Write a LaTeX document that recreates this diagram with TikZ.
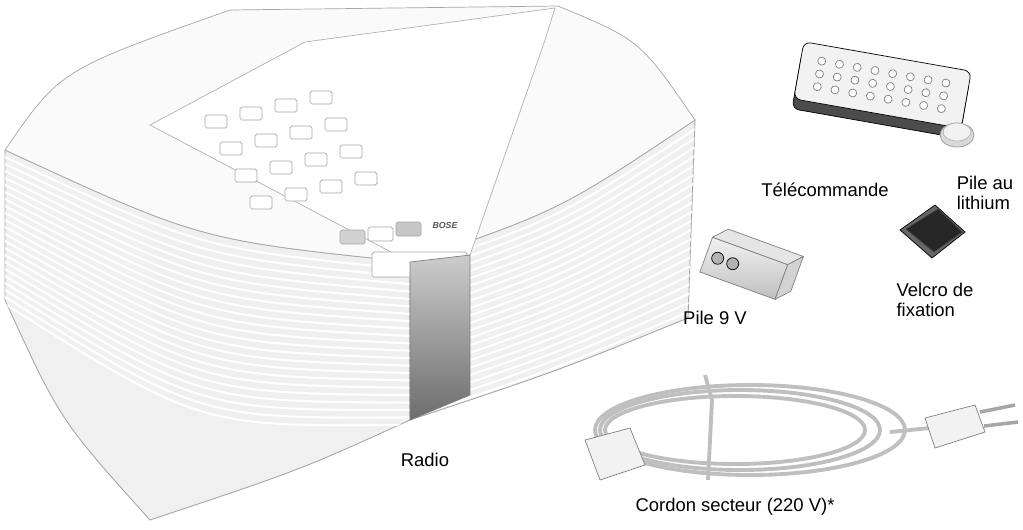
\documentclass[tikz,border=0pt]{standalone}
\usepackage{fontspec}
\setmainfont{Liberation Sans}
\begin{document}
\begin{tikzpicture}[%
      x=0.02cm, y=-0.02cm,
      lbl/.style={font=\fontsize{10.5}{11.5}\selectfont, align=left, inner sep=0pt},
      body/.style={draw=gray!70, line width=0.5pt, fill=gray!12},
      key/.style={draw=gray!70, fill=white, line width=0.4pt, rounded corners=1pt},
      ]
      \useasboundingbox (0,0) rectangle (1023,529);
      % radio
      \draw [body] (5,150) -- (5,300) .. controls (60,420) .. (150,520) .. controls (300,470) .. (410,420) -- (410,262) .. controls (200,240) .. (5,150);
      \draw [body] (410,262) -- (410,420) .. controls (560,370) .. (688,318) -- (695,120) .. controls (560,210) .. (410,262);
      \begin{scope}
        \clip (5,150) -- (5,300) .. controls (60,420) .. (150,520) .. controls (300,470) .. (410,420) -- (410,262) .. controls (200,240) .. (5,150);
        \foreach \i in {1,...,22} {
          \draw [white, line width=1.2pt] (5,{150+7*\i}) .. controls (200,{240+8.5*\i}) .. (410,{262+7.4*\i});
        }
      \end{scope}
      \begin{scope}
        \clip (410,262) -- (410,420) .. controls (560,370) .. (688,318) -- (695,120) .. controls (560,210) .. (410,262);
        \foreach \i in {1,...,22} {
          \draw [white, line width=1.2pt] (410,{262+7.4*\i}) .. controls (560,{210+7.5*\i}) .. (695,{120+9*\i});
        }
      \end{scope}
      \draw [draw=gray!70, fill=white!96!gray] (5,150) .. controls (60,70) .. (230,10) -- (558,6) .. controls (640,40) .. (695,120) .. controls (560,210) .. (410,262) .. controls (200,240) .. (5,150);
      % keypad panel
      \draw [gray!60, fill=white] (150,125) -- (305,42) -- (555,8) -- (545,40) -- (470,255) -- (410,262) -- cycle;
      \foreach \r in {0,1,2,3} \foreach \c in {0,1,2,3} {
        \draw [key] ({205+35*\c+15*\r},{115-8*\c+27*\r}) rectangle +(22,13);
      }
      \draw [key, fill=gray!35] (340,230) rectangle +(25,14);
      \draw [key] (368,227) rectangle +(25,14);
      \draw [key, fill=gray!45] (396,222) rectangle +(25,14);
      \draw [key] (372,252) rectangle +(95,25);
      \node [font=\tiny\itshape\bfseries, gray!70!black] at (445,225) {BOSE};
      \shade [top color=gray!40, bottom color=gray!85!black, draw=gray] (410,262) -- (470,255) -- (470,395) -- (410,420) -- cycle;
      \node [lbl] (radio) at (425,460) {Radio};
      % remote
      \begin{scope}[shift={(882,88)}, rotate=-10]
        \draw [fill=gray!60!black, rounded corners=4pt] (-85,-22) rectangle (85,36);
        \draw [fill=gray!10, rounded corners=4pt] (-85,-32) rectangle (85,26);
        \foreach \c in {-3,...,4} \foreach \r in {-1,0,1} {
          \draw [gray, fill=white] ({18*\c-10},{13*\r-3}) circle (4);
        }
      \end{scope}
      \node [lbl] (remote) at (825,190) {Télécommande};
      % lithium cell
      \draw [gray!80, fill=gray!30] (957,135) ellipse [x radius=17, y radius=12];
      \draw [gray!60, fill=gray!10] (957,132) ellipse [x radius=14, y radius=9];
      \node [lbl] (cell) at (985,193) {Pile au\\lithium};
      % 9 V battery
      \begin{scope}[shift={(745,265)}, rotate=-20]
        \draw [gray, top color=gray!10, bottom color=gray!50] (-40,-15) rectangle (40,22);
        \draw [gray, fill=gray!20] (-40,-15) -- (-28,-28) -- (52,-28) -- (40,-15) -- cycle;
        \draw [gray, fill=gray!35] (40,-15) -- (52,-28) -- (52,9) -- (40,22) -- cycle;
        \draw [fill=gray!60] (-28,3) circle (6) (-12,3) circle (6);
      \end{scope}
      \node [lbl] (battery) at (715,318) {Pile 9 V};
      % velcro
      \draw [fill=gray!80!black] (935,205) -- (965,232) -- (932,258) -- (900,230) -- cycle;
      \draw [gray!50!black, fill=black!85] (938,209) -- (962,232) -- (934,252) -- (906,229) -- cycle;
      \node [lbl] (velcro) at (935,300) {Velcro de\\fixation};
      % cord
      \begin{scope}[gray!50, line width=2.2pt]
        \foreach \a/\b/\dx in {140/40/0, 155/45/10, 130/34/-5} {
          \draw (740+\dx,430) ellipse [x radius=\a, y radius=\b];
        }
        \draw (705,375) -- (712,400) -- (708,480);
        \draw (890,432) -- (930,428);
      \end{scope}
      \draw [gray, fill=gray!10] (585,440) -- (630,428) -- (645,465) -- (600,480) -- cycle;
      \draw [gray, fill=gray!10] (925,418) -- (975,405) -- (985,432) -- (935,448) -- cycle;
      \draw [gray!70, line width=2pt] (980,412) -- (1015,405) (984,426) -- (1018,422);
      \node [lbl] (cord) at (735,507) {Cordon secteur (220 V)*};
\end{tikzpicture}
\end{document}
